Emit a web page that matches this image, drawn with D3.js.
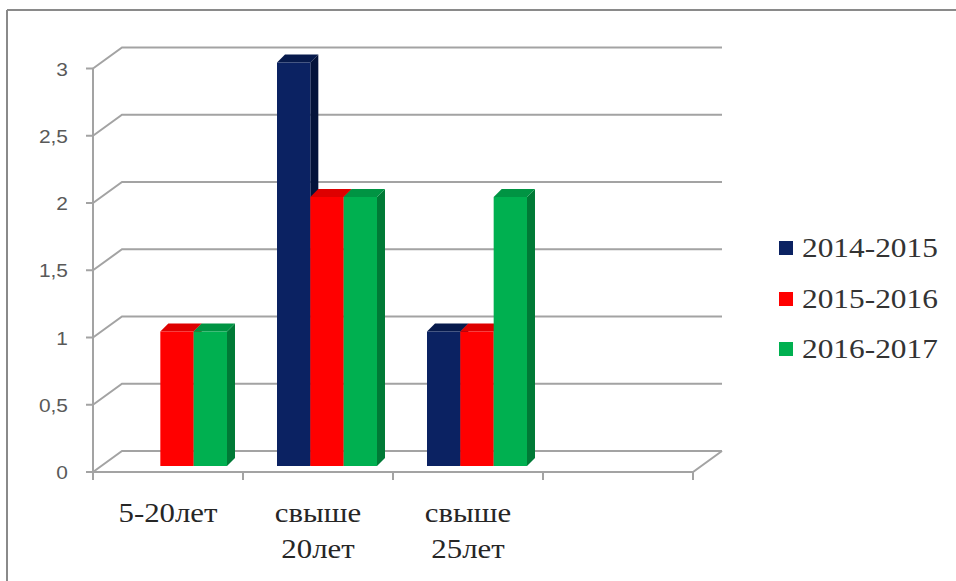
<!DOCTYPE html>
<html><head><meta charset="utf-8">
<script src="https://cdn.jsdelivr.net/npm/d3@7"></script>
<style>body{margin:0;background:#fff}svg{display:block}
.serif{font-family:"Liberation Serif","DejaVu Serif","Times New Roman",serif}
.sans{font-family:"Liberation Sans","DejaVu Sans",Arial,sans-serif}
</style>
</head><body>
<svg id="c" width="956" height="581"></svg>
<script>
const categories = ["5-20лет", "свыше 20лет", "свыше 25лет", ""];
const categoryLines = [["5-20лет"], ["свыше", "20лет"], ["свыше", "25лет"], []];
const seriesNames = ["2014-2015", "2015-2016", "2016-2017"];
const s2014 = [0, 3, 1, null];
const s2015 = [1, 2, 1, null];
const s2016 = [1, 2, 2, null];
const yTicks = [0, 0.5, 1, 1.5, 2, 2.5, 3];
const seriesValues = [s2014, s2015, s2016];
const colors = [
  {front:"#0b2262", top:"#071a4c", side:"#04133a"},
  {front:"#ff0000", top:"#de0000", side:"#b00000"},
  {front:"#00b050", top:"#009443", side:"#007a36"}
];

const svg = d3.select("#c");
const grid = "#a3a3a3";

// border
svg.append("line").attr("x1",7).attr("x2",956).attr("y1",10).attr("y2",10).attr("stroke","#8a8a8a").attr("stroke-width",2);
svg.append("line").attr("x1",7).attr("x2",7).attr("y1",10).attr("y2",581).attr("stroke","#8a8a8a").attr("stroke-width",2);

const x = d3.scaleBand().domain(categories.map((d,i)=>i)).range([93,693]);
const xs = d3.scaleBand().domain(seriesNames).range([0,x.bandwidth()]).paddingOuter(0.75);
const y = d3.scaleLinear().domain([0,3]).range([472,68.5]);
const back = {dx:29, dy:-21};
const barOff = {dx:9, dy:-6};
const barDepth = {dx:8, dy:-8};

// gridlines (3D walls)
yTicks.forEach(t=>{
  const yy = y(t);
  svg.append("path")
    .attr("d",`M${x.range()[0]},${yy}L${x.range()[0]+back.dx},${yy+back.dy}L${x.range()[1]+back.dx},${yy+back.dy}`)
    .attr("fill","none").attr("stroke",grid).attr("stroke-width",2);
});
// floor front edge + right diagonal
svg.append("path")
  .attr("d",`M${x.range()[0]},${y(0)}L${x.range()[1]},${y(0)}L${x.range()[1]+back.dx},${y(0)+back.dy}`)
  .attr("fill","none").attr("stroke",grid).attr("stroke-width",2);
// y axis
svg.append("line").attr("x1",93).attr("x2",93).attr("y1",y(3)).attr("y2",y(0)).attr("stroke",grid).attr("stroke-width",2);
yTicks.forEach(t=>{
  svg.append("line").attr("x1",86).attr("x2",93).attr("y1",y(t)).attr("y2",y(t)).attr("stroke",grid).attr("stroke-width",2);
  svg.append("text").attr("class","sans").attr("transform",`translate(68,${y(t)+7}) scale(1.1,1)`)
    .attr("text-anchor","end")
    .attr("font-size",19).attr("fill","#595959")
    .text(String(t).replace(".",","));
});
// x ticks
categories.concat(["end"]).forEach((c,i)=>{
  const xx = i<categories.length ? x(i) : x.range()[1];
  svg.append("line").attr("x1",xx).attr("x2",xx).attr("y1",y(0)).attr("y2",y(0)+8).attr("stroke",grid).attr("stroke-width",2);
});

// bars
categories.forEach((c,ci)=>{
  seriesNames.forEach((s,si)=>{
    const v = seriesValues[si][ci];
    if (v===null || v===0) return;
    const x0 = x(ci)+xs(s)+barOff.dx, x1 = x0+xs.bandwidth();
    const yt = y(v)+barOff.dy, yb = y(0)+barOff.dy;
    const col = colors[si];
    const g = svg.append("g");
    g.append("path").attr("d",`M${x1},${yt}L${x1+barDepth.dx},${yt+barDepth.dy}L${x1+barDepth.dx},${yb+barDepth.dy}L${x1},${yb}Z`).attr("fill",col.side);
    g.append("path").attr("d",`M${x0},${yt}L${x0+barDepth.dx},${yt+barDepth.dy}L${x1+barDepth.dx},${yt+barDepth.dy}L${x1},${yt}Z`).attr("fill",col.top);
    g.append("rect").attr("x",x0).attr("y",yt).attr("width",xs.bandwidth()).attr("height",yb-yt).attr("fill",col.front);
  });
});

// category labels
categoryLines.forEach((lines,ci)=>{
  lines.forEach((ln,li)=>{
    svg.append("text").attr("class","serif").attr("transform",`translate(${x(ci)+x.bandwidth()/2},${522+li*36}) scale(1.1,1)`)
      .attr("text-anchor","middle").attr("font-size",28).attr("fill","#262626")
      .text(ln);
  });
});

// legend
const legY = [257, 308, 358];
seriesNames.forEach((s,i)=>{
  svg.append("rect").attr("x",779).attr("y",legY[i]-16).attr("width",14).attr("height",14).attr("fill",colors[i].front);
  svg.append("text").attr("class","serif").attr("transform",`translate(802,${legY[i]}) scale(1.12,1)`)
    .attr("font-size",28).attr("fill","#333")
    .text(s);
});
</script>
</body></html>
